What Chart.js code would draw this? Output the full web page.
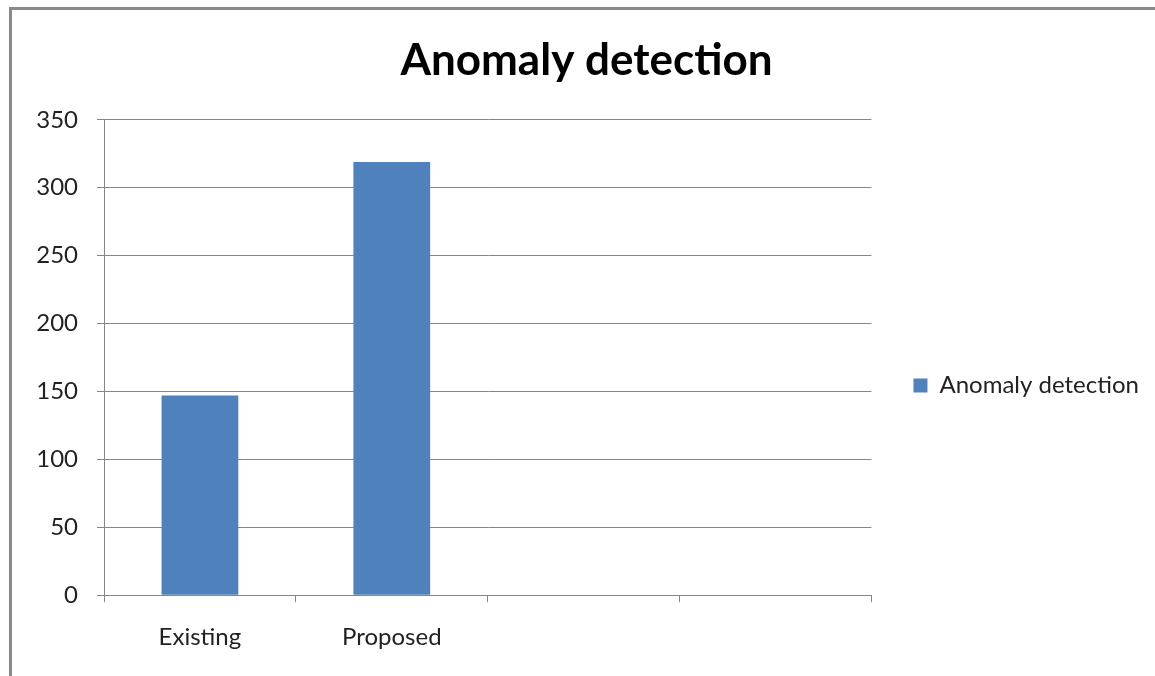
<!DOCTYPE html>
<html>
<head>
<meta charset="utf-8">
<script src="https://cdn.jsdelivr.net/npm/chart.js@4.4.0/dist/chart.umd.min.js"></script>
<style>
  html, body { margin:0; padding:0; background:#fff; overflow:hidden; }
  #wrap { position:absolute; left:0; top:0; width:1155px; height:676px; }
  #frame { position:absolute; left:9px; top:7px; width:1160px; height:680px; border:3px solid #8a8a8a; box-sizing:border-box; pointer-events:none; }
</style>
</head>
<body>
<div id="wrap"><canvas id="myChart" width="1155" height="676"></canvas></div>
<div id="frame"></div>
<script>
var categories = ["Existing", "Proposed", "", ""];
var anomalyValues = [147, 319, null, null];
var seriesName = "Anomaly detection";
var yTicks = [0, 50, 100, 150, 200, 250, 300, 350];

var gridColor = "#868686";
var fontName = "Lato, 'Open Sans', sans-serif";

var chardata = {
  labels: categories,
  datasets: [
    {
      label: seriesName,
      data: anomalyValues,
      backgroundColor: "#4F81BD",
      borderColor: "#4F81BD",
      borderWidth: 0,
      barPercentage: 0.4,
      categoryPercentage: 1.0
    }
  ]
};

var ctx = document.getElementById('myChart');
var barGraph = new Chart(ctx, {
  type: 'bar',
  data: chardata,
  options: {
    responsive: false,
    animation: false,
    layout: { padding: { left: 24, right: 6, top: 0, bottom: 3 } },
    plugins: {
      title: {
        display: true,
        text: "Anomaly detection",
        color: "#000",
        font: { family: fontName, size: 44, weight: 'bold' },
        padding: { top: 34, bottom: 33 }
      },
      legend: {
        display: true,
        position: 'right',
        title: { display: true, text: '', font: { size: 15 }, padding: { top: 0, bottom: 80 } },
        labels: {
          boxWidth: 14,
          boxHeight: 14,
          padding: 42,
          color: "#222",
          font: { family: fontName, size: 24 }
        }
      },
      tooltip: { enabled: false }
    },
    scales: {
      x: {
        grid: { display: true, drawOnChartArea: false, drawTicks: true, tickLength: 7, color: gridColor, offset: true },
        border: { display: true, color: gridColor, width: 1 },
        ticks: { color: "#222", padding: 21, font: { family: fontName, size: 24 }, maxRotation: 0 }
      },
      y: {
        min: 0,
        max: 350,
        afterFit: function(scale) { scale.width = 80; },
        afterBuildTicks: function(scale) { scale.ticks = yTicks.map(function(v){ return { value: v }; }); },
        grid: { color: gridColor, tickLength: 7, drawTicks: true },
        border: { display: true, color: gridColor, width: 1 },
        ticks: { color: "#222", padding: 19, font: { family: fontName, size: 24 } }
      }
    }
  }
});
</script>
</body>
</html>
